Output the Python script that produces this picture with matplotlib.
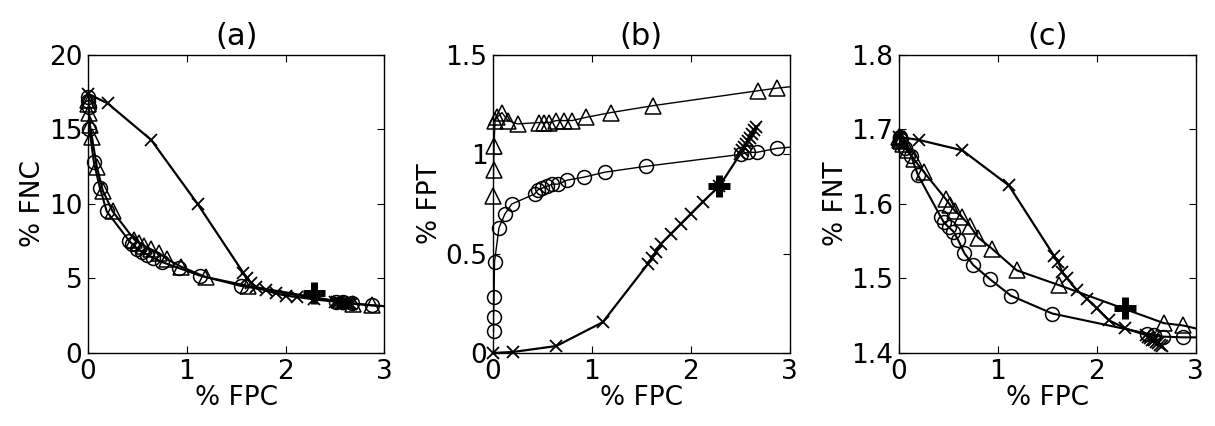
import matplotlib
matplotlib.use('Agg')
import matplotlib.pyplot as plt

# x positions (% FPC) shared by all three panels
x_cross = [0, 0.2, 0.64, 1.11, 1.57, 1.61, 1.65, 1.7, 1.8, 1.9, 2.0, 2.12, 2.29,
           2.5, 2.52, 2.54, 2.56, 2.58, 2.6, 2.62, 2.64, 2.66]
x_circ = [0.005, 0.005, 0.01, 0.015, 0.06, 0.12, 0.19, 0.42, 0.45, 0.5, 0.55, 0.6,
          0.66, 0.75, 0.92, 1.13, 1.55, 2.51, 2.58, 2.67, 2.87, 3.1]
x_tri = [0, 0.005, 0.01, 0.02, 0.04, 0.09, 0.15, 0.25, 0.47, 0.52, 0.57, 0.64,
         0.72, 0.8, 0.94, 1.19, 1.62, 2.68, 2.87, 3.1]
x_plus = [2.29]

# (a) % FNC
fnc_cross = [17.4, 16.75, 14.3, 10.0, 5.4, 5.0, 4.7, 4.45, 4.2, 4.0, 3.85, 3.75, 3.6,
             3.45, 3.42, 3.4, 3.38, 3.36, 3.34, 3.32, 3.3, 3.28]
fnc_circ = [17.2, 16.9, 16.5, 15.0, 12.8, 11.1, 9.5, 7.5, 7.3, 7.0, 6.8, 6.6, 6.4,
            6.1, 5.7, 5.2, 4.5, 3.45, 3.4, 3.35, 3.2, 3.1]
fnc_tri = [17.0, 16.7, 16.1, 15.3, 14.5, 12.5, 10.9, 9.5, 7.6, 7.4, 7.2, 6.95, 6.7,
           6.3, 5.8, 5.1, 4.5, 3.3, 3.2, 3.1]
fnc_plus = [4.05]

# (b) % FPT
fpt_cross = [0.0, 0.005, 0.035, 0.155, 0.45, 0.48, 0.51, 0.55, 0.6, 0.65, 0.7, 0.76, 0.84,
             1.0, 1.02, 1.035, 1.05, 1.065, 1.08, 1.1, 1.12, 1.14]
fpt_circ = [0.11, 0.18, 0.28, 0.46, 0.63, 0.70, 0.75, 0.80, 0.82, 0.83, 0.84, 0.85, 0.85,
            0.87, 0.885, 0.91, 0.94, 1.0, 1.01, 1.01, 1.03, 1.04]
fpt_tri = [0.79, 0.92, 1.04, 1.17, 1.186, 1.21, 1.17, 1.153, 1.16, 1.16, 1.16, 1.17, 1.17,
           1.17, 1.186, 1.21, 1.245, 1.32, 1.333, 1.345]
fpt_plus = [0.84]

# (c) % FNT
fnt_cross = [1.690, 1.686, 1.672, 1.625, 1.530, 1.522, 1.509, 1.500, 1.484, 1.473, 1.460,
             1.444, 1.433, 1.424, 1.422, 1.420, 1.418, 1.417, 1.415, 1.413, 1.411, 1.409]
fnt_circ = [1.69, 1.689, 1.688, 1.686, 1.675, 1.665, 1.639, 1.583, 1.576, 1.569, 1.563,
            1.551, 1.534, 1.518, 1.499, 1.477, 1.453, 1.426, 1.424, 1.422, 1.421, 1.421]
fnt_tri = [1.69, 1.688, 1.686, 1.684, 1.68, 1.672, 1.66, 1.643, 1.607, 1.598, 1.59, 1.582,
           1.57, 1.555, 1.54, 1.511, 1.491, 1.44, 1.437, 1.43]
fnt_plus = [1.46]

panels = [
    ('(a)', '% FNC', fnc_cross, fnc_circ, fnc_tri, fnc_plus, (0, 20), [0, 5, 10, 15, 20], ['0', '5', '10', '15', '20'], 1.5),
    ('(b)', '% FPT', fpt_cross, fpt_circ, fpt_tri, fpt_plus, (0, 1.5), [0, 0.5, 1, 1.5], ['0', '0.5', '1', '1.5'], 1.0),
    ('(c)', '% FNT', fnt_cross, fnt_circ, fnt_tri, fnt_plus, (1.4, 1.8), [1.4, 1.5, 1.6, 1.7, 1.8], ['1.4', '1.5', '1.6', '1.7', '1.8'], 1.5),
]

plt.rcParams['font.family'] = 'DejaVu Sans'
fig = plt.figure(figsize=(12.15, 4.26), dpi=100)
lefts = [0.0724, 0.4058, 0.740]

for left, (title, ylab, yc, yo, yt, yp, ylim, yticks, ylabels, lw) in zip(lefts, panels):
    ax = fig.add_axes([left, 0.1714, 0.2440, 0.6995])
    # lines clipped at the box, markers drawn on top unclipped (last point is off-axis)
    ax.plot(x_circ, yo, 'k-', lw=lw)
    ax.plot(x_tri, yt, 'k-', lw=lw)
    ax.plot(x_cross, yc, 'k-', lw=1.6)
    ax.plot(x_circ[:-1], yo[:-1], ls='none', marker='o', mfc='none', mec='k', ms=10, mew=1.1, clip_on=False)
    ax.plot(x_tri[:-1], yt[:-1], ls='none', marker='^', mfc='none', mec='k', ms=11, mew=1.1, clip_on=False)
    ax.plot(x_cross, yc, ls='none', marker='x', mec='k', ms=9, mew=1.3, clip_on=False)
    ax.plot(x_plus, yp, 'k', ls='none', marker='+', ms=16, mew=5, clip_on=False)
    ax.set_xlim(0, 3)
    ax.set_ylim(*ylim)
    ax.set_xticks([0, 1, 2, 3])
    ax.set_xticklabels(['0', '1', '2', '3'])
    ax.set_yticks(yticks)
    ax.set_yticklabels(ylabels)
    ax.tick_params(direction='in', top=True, right=True, labelsize=19, length=5, width=0.8, pad=4)
    ax.set_xlabel('% FPC', fontsize=19, labelpad=0)
    ax.set_ylabel(ylab, fontsize=19, labelpad=2)
    ax.set_title(title, fontsize=22, pad=7)
    for s in ax.spines.values():
        s.set_linewidth(1.0)

fig.savefig('out.png', dpi=100)
